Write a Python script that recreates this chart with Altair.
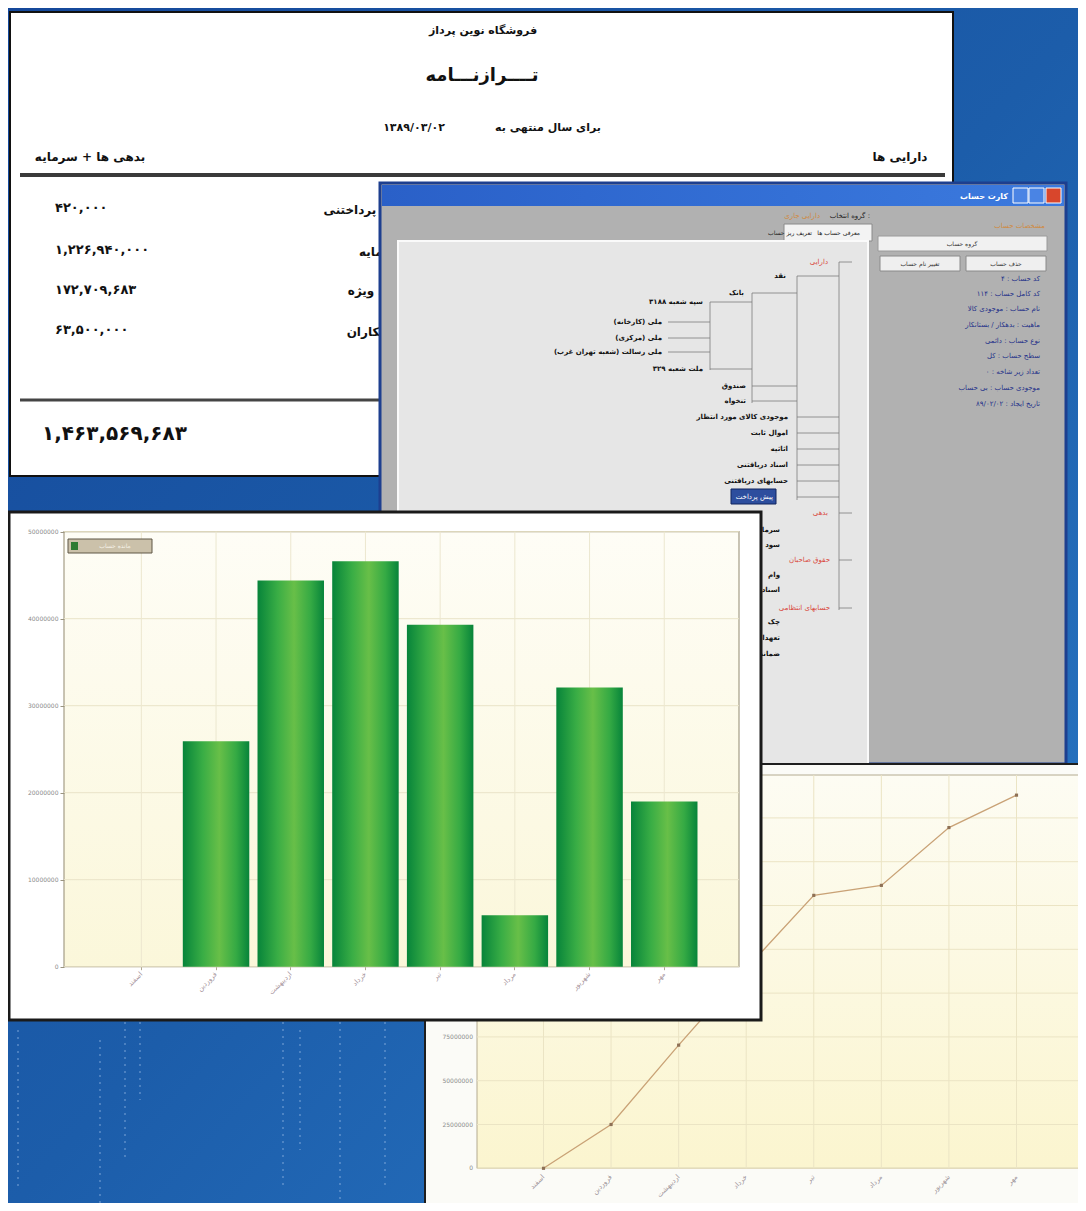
import altair as alt
import pandas as pd

# ---------------- chart values ----------------
MONTHS = ["اسفند", "فروردین", "اردیبهشت", "خرداد", "تیر", "مرداد", "شهریور", "مهر"]
BAR_VALUES = [0, 25.9e6, 44.4e6, 46.6e6, 39.3e6, 5.9e6, 32.1e6, 19.0e6]
BAR_TICKS = [0, 10e6, 20e6, 30e6, 40e6, 50e6]
LINE_VALUES = [0, 25.0e6, 70.3e6, 114.0e6, 155.8e6, 161.5e6, 194.5e6, 213.0e6]
LINE_TICKS = [0, 25e6, 50e6, 75e6, 100e6, 125e6, 150e6, 175e6, 200e6]

REPORT_SHOP = "فروشگاه نوین پرداز"
REPORT_TITLE = "تــــرازنـــامه"
REPORT_PERIOD = "برای سال منتهی به"
REPORT_DATE = "۱۳۸۹/۰۳/۰۲"
REPORT_ASSETS = "دارایی ها"
REPORT_LIAB = "بدهی ها + سرمایه"
REPORT_ITEMS = ["اسناد پرداختنی", "سرمایه", "سود ویژه", "بستانکاران"]
REPORT_AMOUNTS = ["۴۲۰,۰۰۰", "۱,۲۲۶,۹۴۰,۰۰۰", "۱۷۲,۷۰۹,۶۸۳", "۶۳,۵۰۰,۰۰۰"]
REPORT_TOTAL = "۱,۴۶۳,۵۶۹,۶۸۳"

TREE_BLACK = ["نقد", "بانک", "سپه شعبه ۳۱۸۸", "ملی (کارخانه)", "ملی (مرکزی)",
              "ملی رسالت (شعبه تهران غرب)", "ملت شعبه ۳۲۹", "صندوق", "تنخواه",
              "موجودی کالای مورد انتظار", "اموال ثابت", "اثاثیه", "اسناد دریافتنی",
              "حسابهای دریافتنی", "سرمایه", "سود", "وام", "اسناد", "چک", "تعهدات", "ضمانت"]
TREE_RED = ["دارایی", "بدهی", "حقوق صاحبان", "حسابهای انتظامی"]
TREE_SELECTED = "پیش پرداخت"
INFO_LINES = ["کد حساب : ۴", "کد کامل حساب : ۱۱۴", "نام حساب : موجودی کالا",
              "ماهیت : بدهکار / بستانکار", "نوع حساب : دائمی", "سطح حساب : کل",
              "تعداد زیر شاخه : ۰", "موجودی حساب : بی حساب", "تاریخ ایجاد : ۸۹/۰۲/۰۲"]
WINDOW_TITLE = "کارت حساب"
LEGEND_LABEL = "مانده حساب"

# ---------------- canvas helpers ----------------
W, H = 1070, 1195
OFF = 8
FONT = "DejaVu Sans"
ONE = alt.Data(values=[{"a": 1}])


def P(v):
    return v - OFF


def grad(stops, x2=0, y2=1):
    return alt.LinearGradient(
        gradient="linear",
        stops=[alt.GradientStop(offset=o, color=c) for o, c in stops],
        x1=0, y1=0, x2=x2, y2=y2)


def box(x0, y0, x1, y1, **kw):
    return alt.Chart(ONE).mark_rect(**kw).encode(
        x=alt.value(P(x0)), x2=alt.value(P(x1)),
        y=alt.value(P(y0)), y2=alt.value(P(y1)))


def segs(items, color, width, dash=None, opacity=1.0):
    df = pd.DataFrame(items, columns=["x0", "y0", "x1", "y1"]) - OFF
    kw = dict(color=color, strokeWidth=width, opacity=opacity)
    if dash:
        kw["strokeDash"] = dash
    return alt.Chart(df).mark_rule(**kw).encode(
        x=alt.X("x0:Q", scale=None, axis=None),
        y=alt.Y("y0:Q", scale=None, axis=None),
        x2="x1:Q", y2="y1:Q")


def texts(items, **kw):
    df = pd.DataFrame(items, columns=["t", "x", "y"])
    df["x"] = df["x"] - OFF
    df["y"] = df["y"] - OFF
    kw.setdefault("font", FONT)
    return alt.Chart(df).mark_text(**kw).encode(
        x=alt.X("x:Q", scale=None, axis=None),
        y=alt.Y("y:Q", scale=None, axis=None),
        text="t:N")


layers = []

# ---------------- background ----------------
layers.append(box(0, 0, 1100, 1220, fill=grad([(0, "#15489a"), (0.5, "#1c5daa"), (1, "#2b7bc9")], x2=1, y2=1)))
layers.append(segs([(18, 1030, 18, 1190), (100, 1040, 100, 1205), (125, 1022, 125, 1160),
                    (140, 1022, 140, 1100), (283, 1022, 283, 1190), (300, 1030, 300, 1150),
                    (340, 1022, 340, 1205), (385, 1022, 385, 1190)],
                   "#a9c8ee", 1.5, dash=[2, 5], opacity=0.45))

# ---------------- report panel ----------------
layers.append(box(10, 12, 953, 476, fill="#ffffff", stroke="#111111", strokeWidth=2))
layers.append(segs([(20, 175, 945, 175)], "#3a3a3a", 4))
layers.append(segs([(20, 400, 945, 400)], "#444444", 3))
layers.append(texts([(REPORT_SHOP, 483, 31)], fontSize=11, fontWeight="bold", color="#111"))
layers.append(texts([(REPORT_TITLE, 482, 76)], fontSize=18, fontWeight="bold", color="#111"))
layers.append(texts([(REPORT_PERIOD, 548, 128), (REPORT_DATE, 414, 128)], fontSize=11,
                    fontWeight="bold", color="#111"))
layers.append(texts([(REPORT_ASSETS, 900, 157), (REPORT_LIAB, 90, 157)], fontSize=12,
                    fontWeight="bold", color="#111"))
layers.append(texts(list(zip(REPORT_AMOUNTS, [55] * 4, [208, 250, 290, 330])), fontSize=13,
                    fontWeight="bold", color="#111", align="left"))
layers.append(texts(list(zip(REPORT_ITEMS, [412, 402, 404, 410], [210, 252, 291, 332])),
                    fontSize=12, fontWeight="bold", color="#111", align="right"))
layers.append(texts([(REPORT_TOTAL, 42, 434)], fontSize=20, fontWeight="bold", color="#111",
                    align="left"))

# ---------------- accounts window ----------------
layers.append(box(380, 183, 1066, 764, fill="#b1b1b1", stroke="#1d3f8f", strokeWidth=3))
layers.append(box(382, 185, 1064, 206, fill=grad([(0, "#2a60c8"), (0.6, "#3470d6"), (1, "#3c7ade")], x2=1, y2=0)))
layers.append(box(1046, 188, 1061, 203, fill="#d8462c", stroke="#ffffff", strokeWidth=1))
layers.append(box(1013, 188, 1028, 203, fill="#4a84e4", stroke="#ffffff", strokeWidth=1))
layers.append(box(1029, 188, 1044, 203, fill="#4a84e4", stroke="#ffffff", strokeWidth=1))
layers.append(texts([(WINDOW_TITLE, 1008, 197)], fontSize=8, fontWeight="bold", color="#ffffff",
                    align="right"))
layers.append(texts([("گروه انتخاب :", 870, 216)], fontSize=7, color="#222", align="right"))
layers.append(texts([("دارایی جاری", 820, 216), ("مشخصات حساب", 1045, 226)], fontSize=7,
                    color="#d08a40", align="right"))
layers.append(box(784, 224, 872, 241, fill="#f3f3f3", stroke="#8a8a8a", strokeWidth=1))
layers.append(texts([("معرفی حساب ها", 860, 233), ("تعریف ریز حساب", 812, 233)], fontSize=6,
                    color="#222", align="right"))
layers.append(box(398, 241, 868, 764, fill="#e6e6e6", stroke="#fafafa", strokeWidth=2))
layers.append(box(878, 236, 1047, 251, fill="#f1f1f1", stroke="#9a9a9a", strokeWidth=1))
layers.append(box(880, 256, 960, 271, fill="#efefef", stroke="#8a8a8a", strokeWidth=1))
layers.append(box(966, 256, 1046, 271, fill="#efefef", stroke="#8a8a8a", strokeWidth=1))
layers.append(texts([("گروه حساب", 962, 244), ("تغییر نام حساب", 920, 264),
                     ("حذف حساب", 1006, 264)], fontSize=6, color="#333"))
layers.append(texts(list(zip(INFO_LINES, [1040] * 9,
                             [279, 294, 309, 325, 341, 356, 372, 388, 404])),
                    fontSize=7, color="#25318a", align="right"))
# tree connectors
layers.append(segs([(839, 262, 839, 610), (797, 276, 797, 500), (752, 293, 752, 403),
                    (710, 302, 710, 370), (839, 262, 852, 262), (797, 276, 839, 276),
                    (752, 293, 797, 293), (710, 302, 752, 302), (668, 322, 710, 322),
                    (668, 338, 710, 338), (668, 352, 710, 352), (710, 369, 752, 369),
                    (752, 386, 797, 386), (752, 401, 797, 401), (797, 417, 839, 417),
                    (797, 433, 839, 433), (797, 449, 839, 449), (797, 465, 839, 465),
                    (797, 481, 839, 481), (797, 497, 839, 497), (839, 513, 852, 513),
                    (839, 560, 852, 560), (839, 608, 852, 608)],
                   "#7b7b7b", 0.8))
tree_x = [786, 744, 703, 662, 662, 662, 703, 746, 746, 788, 788, 788, 788, 788,
          780, 780, 780, 780, 780, 780, 780]
tree_y = [276, 293, 302, 322, 338, 352, 369, 386, 401, 417, 433, 449, 465, 481,
          530, 545, 575, 590, 622, 638, 654]
layers.append(texts(list(zip(TREE_BLACK, tree_x, tree_y)), fontSize=7, fontWeight="bold",
                    color="#111", align="right"))
layers.append(texts(list(zip(TREE_RED, [828, 828, 830, 830], [262, 513, 560, 608])), fontSize=7,
                    color="#d9483c", align="right"))
layers.append(box(731, 489, 776, 504, fill="#2d4e9e", stroke="#10245e", strokeWidth=1))
layers.append(texts([(TREE_SELECTED, 773, 497)], fontSize=7, color="#ffffff", align="right"))

# ---------------- line chart panel ----------------
layers.append(box(425, 764, 1100, 1220, fill="#fbfbf7", stroke="#1e1e1e", strokeWidth=2))
layers.append(box(477, 775, 1083, 1168.3, fill=grad([(0, "#fdfcf3"), (1, "#fbf5cf")]),
                  stroke="#b3aa90", strokeWidth=1))
xl = alt.Scale(type="point", domain=MONTHS, range=[P(543.5), P(1016.5)], padding=0)
yl = alt.Scale(domain=[0, 224.5e6], range=[P(1168.3), P(775)], nice=False)
line_df = pd.DataFrame({"month": MONTHS, "value": LINE_VALUES})
lt_df = pd.DataFrame({"v": LINE_TICKS})
layers.append(alt.Chart(lt_df).mark_rule(color="#ebe4c4", strokeWidth=1).encode(
    y=alt.Y("v:Q", scale=yl, axis=None), x=alt.value(P(477)), x2=alt.value(P(1083))))
layers.append(alt.Chart(line_df).mark_rule(color="#ebe4c4", strokeWidth=1).encode(
    x=alt.X("month:N", scale=xl, sort=MONTHS, axis=None),
    y=alt.value(P(775)), y2=alt.value(P(1168.3))))
layers.append(alt.Chart(lt_df).mark_text(align="right", baseline="middle", fontSize=6,
                                          color="#8c8c8c", font=FONT).encode(
    y=alt.Y("v:Q", scale=yl, axis=None), x=alt.value(P(473)), text=alt.Text("v:Q", format="d")))
layers.append(alt.Chart(line_df).mark_text(align="right", baseline="middle", fontSize=7, angle=315,
                                            color="#a0969c", font=FONT).encode(
    x=alt.X("month:N", scale=xl, sort=MONTHS, axis=None), y=alt.value(P(1176)), text="month:N"))
layers.append(alt.Chart(line_df).mark_line(
    color="#c9a276", strokeWidth=1.3,
    point=alt.OverlayMarkDef(shape="square", size=10, filled=True, color="#8e7055")).encode(
    x=alt.X("month:N", scale=xl, sort=MONTHS, axis=None),
    y=alt.Y("value:Q", scale=yl, axis=None)))

# ---------------- bar chart panel ----------------
layers.append(box(9, 512, 761, 1020, fill="#ffffff", stroke="#1a1a1a", strokeWidth=3))
layers.append(box(64, 531.7, 739, 966.7, fill=grad([(0, "#fefdf6"), (1, "#fbf7da")]),
                  stroke="#a59d86", strokeWidth=1.2))
xb = alt.Scale(domain=MONTHS, range=[P(104), P(701.6)], paddingInner=0.11, paddingOuter=0.055)
yb = alt.Scale(domain=[0, 50e6], range=[P(966.7), P(531.7)], nice=False)
bar_df = pd.DataFrame({"month": MONTHS, "value": BAR_VALUES})
bt_df = pd.DataFrame({"v": BAR_TICKS})
layers.append(alt.Chart(bt_df).mark_rule(color="#e9e3c8", strokeWidth=1).encode(
    y=alt.Y("v:Q", scale=yb, axis=None), x=alt.value(P(64)), x2=alt.value(P(739))))
layers.append(alt.Chart(bar_df).mark_rule(color="#ece7cf", strokeWidth=1).encode(
    x=alt.X("month:N", scale=xb, sort=MONTHS, axis=None),
    y=alt.value(P(531.7)), y2=alt.value(P(966.7))))
BAR_GRAD = grad([(0, "#07843a"), (0.3, "#39ad45"), (0.55, "#68bf48"), (0.8, "#35aa44"),
                 (1, "#07843a")], x2=1, y2=0)
layers.append(alt.Chart(bar_df).mark_bar(fill=BAR_GRAD).encode(
    x=alt.X("month:N", scale=xb, sort=MONTHS,
            axis=alt.Axis(orient="bottom", offset=-(H - P(966.7)), domain=False, ticks=True,
                          tickSize=3, tickColor="#b0a890", labelAngle=315, labelAlign="right",
                          labelBaseline="middle", labelFontSize=7, labelColor="#a8969e",
                          labelPadding=3, labelFont=FONT, title=None, grid=False, zindex=1)),
    y=alt.Y("value:Q", scale=yb,
            axis=alt.Axis(orient="left", offset=-P(64), values=BAR_TICKS, format="d",
                          domain=False, tickSize=4, tickColor="#9a9480", labelFontSize=6,
                          labelColor="#8a8a8a", labelPadding=2, labelFont=FONT, title=None,
                          grid=False, zindex=1))))
layers.append(box(68, 539, 152, 553, fill="#cbc1aa", stroke="#5f5646", strokeWidth=1))
layers.append(box(71, 542, 78, 550, fill="#2f7b33"))
layers.append(texts([(LEGEND_LABEL, 115, 546)], fontSize=6, color="#f6f2e8"))

chart = alt.layer(*layers).resolve_scale(x="independent", y="independent").properties(
    width=W, height=H, padding=0, autosize=alt.AutoSizeParams(type="none"),
    background="#1a56a2").configure_view(stroke=None)

chart.save("out.html", embed_options={"renderer": "svg", "actions": False})
